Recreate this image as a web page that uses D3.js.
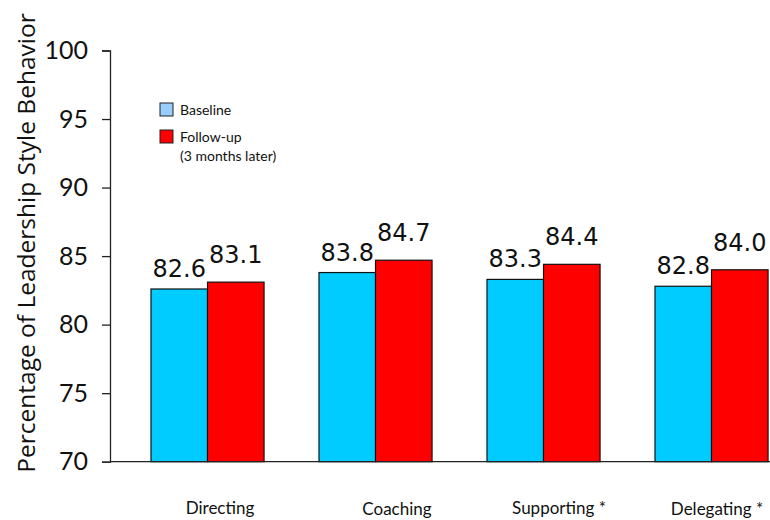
<!DOCTYPE html>
<html>
<head>
<meta charset="utf-8">
<script src="https://cdn.jsdelivr.net/npm/d3@7"></script>
<style>
  html, body { margin: 0; padding: 0; background: #fff; }
  svg { display: block; }
</style>
</head>
<body>
<svg id="chart" width="770" height="520"></svg>
<script>
// Leadership style ratings, baseline vs. follow-up
const categories = ["Directing", "Coaching", "Supporting *", "Delegating *"];
const seriesNames = ["Baseline", "Follow-up"];
const baseline = [82.6, 83.8, 83.3, 82.8];
const followUp = [83.1, 84.7, 84.4, 84.0];
const yTicks = [70, 75, 80, 85, 90, 95, 100];

const svg = d3.select("#chart");
const W = 770, H = 520;

const axisX = 110, yTop = 50.5, yBottom = 461.7;

const y = d3.scaleLinear().domain([70, 100]).range([yBottom, yTop]);

const step = 168;
const x0 = d3.scaleBand()
  .domain(categories)
  .range([axisX, axisX + step * (categories.length - 0.327 + 2 * 0.244)])
  .paddingInner(0.327)
  .paddingOuter(0.244);
const x1 = d3.scaleBand().domain(seriesNames).range([0, x0.bandwidth()]);

const barColor = { "Baseline": "#00ccff", "Follow-up": "#ff0000" };
const legendColor = { "Baseline": "#99ccff", "Follow-up": "#ff0000" };

const rows = categories.map((c, i) => ({
  cat: c,
  vals: [
    { key: "Baseline", v: baseline[i], gap: 12 },
    { key: "Follow-up", v: followUp[i], gap: 19 }
  ]
}));

// bars
const g = svg.append("g");
const groups = g.selectAll("g.grp").data(rows).enter().append("g")
  .attr("transform", d => `translate(${x0(d.cat)},0)`);

groups.selectAll("rect").data(d => d.vals).enter().append("rect")
  .attr("x", d => x1(d.key))
  .attr("y", d => y(d.v))
  .attr("width", x1.bandwidth())
  .attr("height", d => y(70) - y(d.v))
  .attr("fill", d => barColor[d.key])
  .attr("stroke", "#111")
  .attr("stroke-width", 1.2);

groups.selectAll("text").data(d => d.vals).enter().append("text")
  .attr("x", d => x1(d.key) + x1.bandwidth() / 2)
  .attr("y", d => y(d.v) - d.gap)
  .attr("text-anchor", "middle")
  .attr("font-family", "DejaVu Sans, sans-serif")
  .attr("font-size", 24)
  .attr("fill", "#111")
  .text(d => d.v.toFixed(1));

// y axis
const yAxis = d3.axisLeft(y).tickValues(yTicks).tickSize(8).tickPadding(14).tickFormat(d3.format("d"));
const ya = svg.append("g").attr("transform", `translate(${axisX},0)`).call(yAxis);
ya.select(".domain").attr("stroke", "#222").attr("stroke-width", 1.3);
ya.selectAll(".tick line").attr("stroke", "#222").attr("stroke-width", 1.3);
ya.selectAll(".tick text")
  .attr("font-family", "Lato, 'Open Sans', sans-serif")
  .attr("font-size", 25)
  .attr("fill", "#111");

// baseline across the plot
svg.append("line")
  .attr("x1", axisX).attr("x2", W)
  .attr("y1", y(70)).attr("y2", y(70))
  .attr("stroke", "#222").attr("stroke-width", 1.3);

// category labels
const catLabelX = [220, 397, 559, 717];
const catLabelY = [514, 515, 514, 515];
svg.selectAll("text.cat").data(categories).enter().append("text")
  .attr("class", "cat")
  .attr("x", (d, i) => catLabelX[i])
  .attr("y", (d, i) => catLabelY[i])
  .attr("text-anchor", "middle")
  .attr("font-family", "Lato, 'Open Sans', sans-serif")
  .attr("font-size", 17)
  .attr("fill", "#111")
  .text(d => d);

// y title
svg.append("text")
  .attr("transform", `translate(35,243) rotate(-90)`)
  .attr("text-anchor", "middle")
  .attr("font-family", "'Open Sans', 'Noto Sans', sans-serif")
  .attr("font-size", 24.5)
  .attr("fill", "#111")
  .text("Percentage of Leadership Style Behavior");

// legend
const legend = svg.append("g").attr("transform", "translate(160,103)");
const legendRows = [
  { key: "Baseline", lines: ["Baseline"], dy: 0 },
  { key: "Follow-up", lines: ["Follow-up", "(3 months later)"], dy: 27 }
];
legendRows.forEach(r => {
  legend.append("rect")
    .attr("x", 0).attr("y", r.dy)
    .attr("width", 13).attr("height", 13)
    .attr("fill", legendColor[r.key])
    .attr("stroke", "#222").attr("stroke-width", 1);
  r.lines.forEach((t, j) => {
    legend.append("text")
      .attr("x", 20).attr("y", r.dy + 12 + j * 19)
      .attr("font-family", "Lato, 'Open Sans', sans-serif")
      .attr("font-size", 14)
      .attr("fill", "#111")
      .text(t);
  });
});
</script>
</body>
</html>
